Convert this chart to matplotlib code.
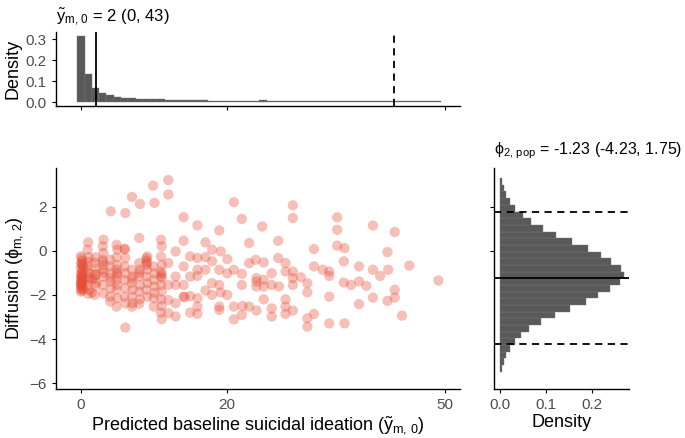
import numpy as np
import matplotlib
matplotlib.use("Agg")
import matplotlib.pyplot as plt

plt.rcParams['font.family'] = ['Liberation Sans', 'DejaVu Sans']
plt.rcParams['mathtext.fontset'] = 'custom'
plt.rcParams['mathtext.rm'] = 'Liberation Sans'
plt.rcParams['mathtext.it'] = 'Liberation Sans'
plt.rcParams['mathtext.default'] = 'regular'

# predicted baseline ideation (x) and diffusion (y) per subject
ideation = [
    # around 0
    0.0, 0.1, 0.2, 0.0, 0.1, 0.3, 0.0, 0.2, 0.1, 0.0, 0.2, 0.1, 0.0, 0.3,
    0.1, 0.0, 0.2, 0.1, 0.0, 0.2, 0.1, 0.0, 0.3, 0.1, 0.0, 0.2, 0.1, 0.0,
    # around 1-2
    1.0, 0.9, 1.1, 1.0, 0.9, 1.1, 1.0, 0.9, 1.1, 1.0, 1.0, 0.9,
    2.0, 1.9, 2.1, 2.0, 1.9, 2.1, 2.0, 1.9, 2.0, 1.5, 1.5,
    # around 3-4
    3.1, 3.0, 3.1, 3.0, 3.1, 3.0, 3.1, 3.0, 3.1, 3.0, 3.1,
    4.1, 4.0, 4.0, 4.1, 4.0, 4.1, 4.0, 4.0, 4.1,
    # around 5-6
    4.9, 5.0, 4.9, 5.0, 4.9, 5.0, 4.9, 5.0, 4.9, 5.0, 4.9, 5.0,
    6.1, 6.0, 6.1, 6.0, 6.1, 6.0, 6.1, 6.0, 6.1, 6.1, 6.0,
    # around 7-8
    7.0, 7.0, 7.1, 7.0, 7.1, 7.0, 7.1, 7.0, 7.0,
    8.1, 8.0, 8.0, 8.1, 8.0, 8.1, 8.0, 8.1, 8.0, 8.0,
    # around 9-11
    9.1, 9.0, 9.1, 9.0, 9.1, 9.0, 9.1, 9.0, 9.1, 9.0,
    9.9, 10.1, 10.0, 10.1, 10.0, 10.1, 10.0, 10.0, 10.1,
    11.0, 11.1, 11.0, 11.1, 11.0, 11.1, 11.0, 11.1, 11.0, 11.1, 11.0,
    11.1, 11.0, 11.1,
    # 12-25
    12.0, 12.0, 21.0, 14.1, 16.0, 22.1, 19.0, 24.9, 14.1, 17.1, 23.1,
    18.0, 19.2, 20.1, 13.0, 15.0, 16.0, 17.1, 18.0, 23.1, 24.0, 12.0,
    14.1, 16.0, 16.0, 15.0, 17.1, 19.0, 20.1, 22.1, 21.0, 24.1, 24.1,
    13.0, 13.0, 12.0, 14.1, 18.0, 19.0, 22.1, 17.1, 18.0, 19.2, 20.1,
    14.1, 14.2, 15.0, 12.0, 13.0, 16.0, 16.0, 19.0, 21.0, 22.2, 23.1,
    24.1, 15.0, 16.0, 19.0, 13.0, 22.1, 21.0, 12.0, 24.1,
    # 25-38
    29.1, 29.1, 35.2, 35.2, 27.1, 32.0, 35.2, 36.2, 36.1, 27.1, 25.1,
    28.1, 32.0, 33.2, 34.1, 34.1, 26.2, 28.1, 29.1, 29.1, 30.2, 29.1,
    31.1, 31.1, 25.1, 26.2, 27.2, 36.1, 37.1, 25.1, 28.1, 34.1, 28.1,
    26.2, 28.1, 29.1, 26.2, 32.0, 31.1, 31.1, 34.1, 36.2, 25.1,
    # 38-49
    40.1, 43.1, 42.1, 45.1, 38.2, 40.1, 42.2, 41.1, 38.2, 39.2, 49.1,
    43.1, 40.1, 43.1, 42.1, 38.2, 44.1,
]
diffusion = [
    -0.25, -0.35, -0.45, -0.55, -0.65, -0.70, -0.80, -0.90, -1.00, -1.05,
    -1.10, -1.20, -1.25, -1.30, -1.35, -1.40, -1.45, -1.50, -1.55, -1.60,
    -1.65, -1.70, -1.75, -1.80, -1.85, -0.60, -1.15, -1.50,
    0.38, 0.05, -0.29, -0.50, -0.71, -1.02, -1.32, -1.55, -1.77, -1.95,
    -1.20, -0.90,
    -0.30, -0.55, -0.80, -1.05, -1.25, -1.45, -1.60, -2.00, -1.10, -1.90,
    -1.30,
    0.50, 0.20, -0.10, -0.41, -0.64, -0.86, -1.17, -1.55, -1.92, -0.50,
    -1.00,
    1.79, -0.41, -0.71, -1.02, -1.24, -1.70, -2.08, -2.30, -1.40,
    0.27, 0.05, -0.30, -0.64, -0.86, -1.09, -1.32, -1.55, -1.77, -2.15,
    -2.53, -1.00,
    1.71, 0.05, -0.33, -0.71, -1.02, -1.32, -1.70, -2.08, -2.38, -3.48,
    0.10,
    2.44, -0.86, -1.17, -1.47, -1.77, -2.08, -2.38, -2.53, -1.30,
    2.12, 0.58, -0.56, -0.86, -1.17, -1.55, -1.85, -2.20, -2.40, -1.00,
    -0.26, -0.45, -0.55, -0.64, -0.86, -1.17, -1.47, -1.77, -2.08, -0.35,
    2.95, 2.17, -0.71, -1.02, -1.32, -1.62, -2.15, -2.53, -1.90,
    0.50, 0.20, -0.26, -0.64, -0.95, -1.05, -1.15, -1.24, -1.55, -1.85,
    -2.20, -2.50, -2.80, -3.10,
    3.20, 2.55, 2.20, 1.52, 1.15, 1.44, 0.92, 1.10, 0.45, 0.38, 0.35,
    0.05, -0.03, -0.38, -0.03, -0.26, -0.33, -0.29, -0.48, -0.56, -0.41,
    -0.56, -0.71, -0.86, -1.14, -1.17, -0.86, -0.86, -1.02, -1.05, -0.86,
    -1.24, -1.62, -1.17, -1.55, -1.55, -1.55, -1.47, -1.55, -1.55, -1.80,
    -2.00, -1.89, -2.00, -2.08, -2.10, -2.05, -2.23, -2.38, -2.15, -2.53,
    -2.53, -2.53, -2.50, -2.53, -2.71, -2.80, -2.86, -2.68, -2.98, -2.91,
    -3.11, -2.83, -1.40,
    2.06, 1.48, 1.52, 0.95, 0.45, 0.08, 0.23, 0.12, -0.48, -0.33, -0.53,
    -0.56, -0.71, -0.86, -0.94, -1.14, -1.02, -0.94, -0.94, -1.24, -1.20,
    -1.55, -1.47, -1.88, -1.62, -1.55, -1.62, -1.44, -1.55, -2.20, -2.20,
    -2.08, -2.53, -2.61, -2.86, -2.71, -2.98, -2.86, -3.06, -3.44, -3.29,
    -3.29, -1.32,
    1.14, 0.85, -0.06, -0.67, -0.71, -0.86, -0.86, -1.14, -1.39, -1.59,
    -1.35, -1.77, -2.12, -2.12, -2.27, -2.42, -2.94,
]

# posterior predictive density of baseline ideation (bins of width 1)
ideation_bins = list(range(50))
ideation_density = [
    0.313, 0.136, 0.068, 0.045, 0.033, 0.026, 0.021, 0.018, 0.016, 0.014,
    0.013, 0.012, 0.011, 0.010, 0.009, 0.009, 0.008, 0.008, 0.007, 0.007,
    0.007, 0.006, 0.006, 0.006, 0.006, 0.011, 0.006, 0.005, 0.005, 0.005,
    0.005, 0.005, 0.005, 0.005, 0.005, 0.005, 0.005, 0.005, 0.005, 0.005,
    0.005, 0.005, 0.005, 0.005, 0.005, 0.005, 0.005, 0.006, 0.006, 0.006,
]
ideation_median, ideation_upper = 2, 43

# posterior density of phi_2,pop (bottom to top)
phi_range = (-5.48, 3.29)
phi_density = [
    0.004, 0.008, 0.013, 0.022, 0.032, 0.046, 0.064, 0.090, 0.119, 0.153,
    0.186, 0.214, 0.240, 0.260, 0.269, 0.264, 0.242, 0.220, 0.191, 0.157,
    0.122, 0.093, 0.068, 0.049, 0.032, 0.021, 0.013, 0.008, 0.004,
]
phi_median, phi_lower, phi_upper = -1.23, -4.23, 1.75

hist_col = '#595959'
point_col = '#E64B35'
tick_col = '#4d4d4d'


def style(ax):
    for s in ('top', 'right'):
        ax.spines[s].set_visible(False)
    for s in ('left', 'bottom'):
        ax.spines[s].set_linewidth(1.0)
    ax.tick_params(direction='out', length=3, width=0.8, colors='black',
                   labelcolor=tick_col, labelsize=11)


fig = plt.figure(figsize=(6.85, 4.38), dpi=100)
ax_main = fig.add_axes([0.0813, 0.113, 0.590, 0.503])
ax_top = fig.add_axes([0.0813, 0.758, 0.590, 0.168])
ax_right = fig.add_axes([0.7212, 0.113, 0.1975, 0.503])

# scatter
ax_main.scatter(ideation, diffusion, s=55, color=point_col, alpha=0.35,
                edgecolors='none')
ax_main.set_xlim(-3.47, 52.04)
ax_main.set_ylim(-6.24, 3.74)
ax_main.set_xticks([0, 20, 50])
ax_main.set_yticks([2, 0, -2, -4, -6])
ax_main.set_xlabel(r'Predicted baseline suicidal ideation ($\tilde{y}_{m,\,0}$)',
                   fontsize=13, labelpad=2)
ax_main.set_ylabel(r'Diffusion ($\phi_{m,\,2}$)', fontsize=13, labelpad=3)
style(ax_main)

# top marginal
ax_top.bar(ideation_bins, ideation_density, width=1.0, color=hist_col,
           edgecolor='#7a7a7a', linewidth=0.3)
ax_top.axvline(ideation_median, color='black', lw=1.3)
ax_top.axvline(ideation_upper, color='black', lw=1.3, ls=(0, (4, 3)))
ax_top.set_xlim(ax_main.get_xlim())
ax_top.set_ylim(-0.019, 0.332)
ax_top.set_xticks([0, 20, 50])
ax_top.set_xticklabels([])
ax_top.set_yticks([0.0, 0.1, 0.2, 0.3])
ax_top.set_ylabel('Density', fontsize=13, labelpad=3)
style(ax_top)
ax_top.set_title(r'$\tilde{y}_{m,\,0}$ = %d (%d, %d)'
                 % (ideation_median, 0, ideation_upper),
                 loc='left', fontsize=12, pad=8)

# right marginal
phi_edges = np.linspace(phi_range[0], phi_range[1], len(phi_density) + 1)
phi_mid = (phi_edges[:-1] + phi_edges[1:]) / 2
ax_right.barh(phi_mid, phi_density, height=np.diff(phi_edges), left=0,
              color=hist_col, edgecolor='#7a7a7a', linewidth=0.3)
ax_right.axhline(phi_median, color='black', lw=1.3)
for v in (phi_lower, phi_upper):
    ax_right.axhline(v, color='black', lw=1.3, ls=(0, (4, 3)))
ax_right.set_ylim(ax_main.get_ylim())
ax_right.set_xlim(-0.013, 0.281)
ax_right.set_xticks([0.0, 0.1, 0.2])
ax_right.set_xticklabels(['0.0', '0.1', '0.2'])
ax_right.set_yticks([2, 0])
ax_right.set_yticklabels([])
ax_right.set_xlabel('Density', fontsize=13, labelpad=2)
style(ax_right)
ax_right.set_title(r'$\phi_{2,\,pop}$ = %.2f (%.2f, %.2f)'
                   % (phi_median, phi_lower, phi_upper),
                   loc='left', fontsize=11.5, pad=10)

fig.savefig('out.png', dpi=100)
